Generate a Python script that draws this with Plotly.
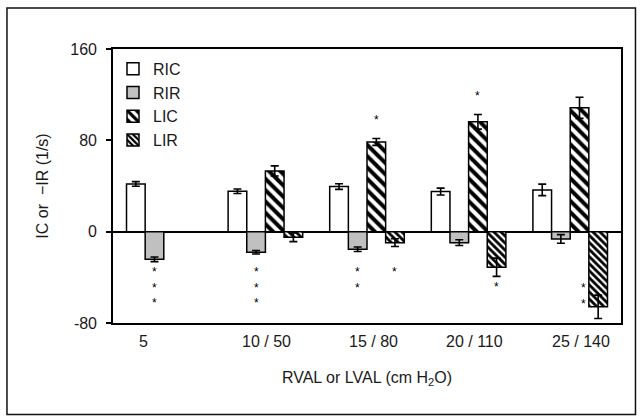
import plotly.graph_objects as go

categories = ["5", "10 / 50", "15 / 80", "20 / 110", "25 / 140"]
ric = [41.8, 35.4, 39.5, 35.1, 36.6]
ric_err = [2.0, 2.0, 2.5, 3.0, 5.0]
rir = [-24.2, -18.0, -15.4, -9.6, -6.4]
rir_err = [2.0, 1.5, 2.0, 2.5, 3.8]
lic = [None, 53.2, 78.6, 96.2, 108.5]
lic_err = [0, 4.4, 3.0, 6.4, 9.3]
lir = [None, -4.9, -9.6, -31.2, -65.8]
lir_err = [0, 3.8, 3.4, 8.0, 10.2]

# significance marks: (category index, series index, number of stars, y of top star)
stars = [
    (0, 1, 3, -33.6),
    (1, 1, 3, -33.6),
    (2, 2, 1, 100.0),
    (2, 1, 2, -33.6),
    (2, 3, 1, -34.0),
    (3, 2, 1, 120.5),
    (3, 3, 1, -46.7),
    (4, 3, 2, -47.4),
]
star_xshift = {(4, 3): -15}

FONT = "Liberation Sans, Arial, sans-serif"
TXT = "#1a1a1a"
BARGAP = 0.266
STAR_SIZE = 12

fig = go.Figure()
err_style = dict(type="data", color="black", thickness=1.6, width=4)
line = dict(color="black", width=1.5)

fig.add_trace(go.Bar(name="RIC", x=categories, y=ric,
                     error_y=dict(array=ric_err, **err_style),
                     marker=dict(color="white", line=line), legendgroup="a"))
fig.add_trace(go.Bar(name="RIR", x=categories, y=rir,
                     error_y=dict(array=rir_err, **err_style),
                     marker=dict(color="#c0c0c0", line=line), legendgroup="b"))
fig.add_trace(go.Bar(name="LIC", x=categories, y=lic,
                     error_y=dict(array=lic_err, **err_style),
                     marker=dict(color="white", line=line,
                                 pattern=dict(shape="\\", fgcolor="black", bgcolor="white",
                                              fgopacity=1, size=8, solidity=0.5)),
                     legendgroup="c"))
fig.add_trace(go.Bar(name="LIR", x=categories, y=lir,
                     error_y=dict(array=lir_err, **err_style),
                     marker=dict(color="white", line=line,
                                 pattern=dict(shape="\\", fgcolor="black", bgcolor="white",
                                              fgopacity=1, size=5, solidity=0.55)),
                     legendgroup="d"))

w = (1 - BARGAP) / 4
annotations = []
for ci, si, n, ytop in stars:
    annotations.append(dict(x=ci + (si - 1.5) * w, y=ytop, xref="x", yref="y",
                            text="<br>".join(["*"] * n), showarrow=False,
                            yanchor="top", yshift=7,
                            xshift=star_xshift.get((ci, si), 0),
                            font=dict(family=FONT, size=STAR_SIZE, color="black")))

# category labels (drawn as annotations so they sit where the reference has them)
label_shift = [-20, 1, 6, 6, 11]
for i, c in enumerate(categories):
    annotations.append(dict(x=i, y=0, xref="x", yref="paper", text=c, showarrow=False,
                            yanchor="top", yshift=-8, xshift=label_shift[i],
                            font=dict(family=FONT, size=16, color=TXT)))

fig.update_layout(
    width=641, height=419,
    margin=dict(l=113, r=20, t=49, b=96),
    paper_bgcolor="white", plot_bgcolor="white",
    barmode="group", bargap=BARGAP, bargroupgap=0,
    font=dict(family=FONT, size=16, color=TXT),
    showlegend=True,
    legend=dict(x=0.0, y=0.99, xanchor="left", yanchor="top",
                bgcolor="rgba(0,0,0,0)", traceorder="grouped",
                tracegroupgap=0, font=dict(size=16, color=TXT)),
    annotations=annotations,
    shapes=[dict(type="rect", xref="paper", yref="paper",
                 x0=-0.2087, x1=1.0285, y0=-0.334, y1=1.1496,
                 line=dict(color="#111", width=1.5))],
)
fig.update_xaxes(type="category", showticklabels=False, ticks="",
                 showline=True, mirror=True, linecolor="black", linewidth=1.6,
                 showgrid=False,
                 title=dict(text="RVAL or LVAL (cm H<sub>2</sub>O)", standoff=48,
                            font=dict(size=16, color=TXT)))
fig.update_yaxes(range=[-80, 160], tickvals=[-80, 0, 80, 160],
                 ticktext=["-80", "0", "80", "160"],
                 ticks="outside", ticklen=5, tickcolor="black", tickwidth=1.5,
                 ticklabelstandoff=6,
                 showline=True, mirror=True, linecolor="black", linewidth=1.6,
                 showgrid=False, zeroline=True, zerolinecolor="black", zerolinewidth=1.6,
                 tickfont=dict(size=16, color=TXT),
                 title=dict(text="IC or  \u2212IR (1/s)", standoff=18,
                            font=dict(size=16, color=TXT)))

fig.write_html("out.html")
